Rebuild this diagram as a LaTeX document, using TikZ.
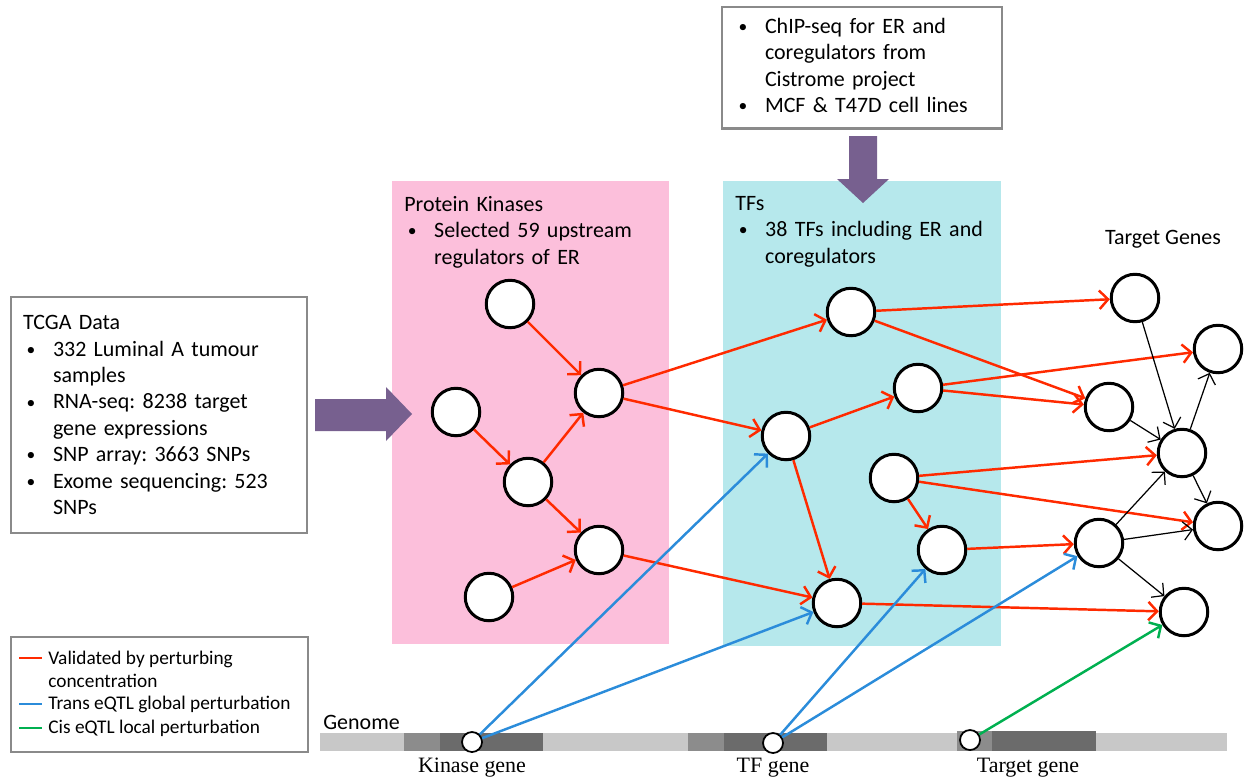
\documentclass[tikz,border=0pt]{standalone}
\usepackage{fontspec}
\setmainfont{Carlito}
\newfontfamily\genefont{Liberation Serif}
\usepackage{tikz}
\usetikzlibrary{%
  arrows.meta%
  ,positioning%
}
\definecolor{kinpink}{HTML}{FCBFDB}
\definecolor{tfcyan}{HTML}{B6E8EC}
\definecolor{fwdpurple}{HTML}{77608F}
\definecolor{valred}{HTML}{FF2A00}
\definecolor{transblue}{HTML}{2B8CDA}
\definecolor{cisgreen}{HTML}{00B050}
\definecolor{boxgray}{HTML}{8A8A8A}
\definecolor{gnlight}{HTML}{C8C8C8}
\definecolor{gnmid}{HTML}{8C8C8C}
\definecolor{gndark}{HTML}{6B6B6B}
\setlength{\parindent}{0pt}
\frenchspacing
\newlength{\bind}\setlength{\bind}{17pt}
\newcommand{\bpt}[1]{\par\noindent\hangindent=\bind\hangafter=1%
  \makebox[\bind][l]{\hspace{2pt}\raisebox{0.5pt}{\fontsize{10}{10}\selectfont\textbullet}}#1\par}

\begin{document}
\begin{tikzpicture}[x=0.02cm,y=-0.02cm,
    every node/.style={font=\fontsize{12.5}{15}\selectfont},
    nd/.style={circle,draw,line width=1.7pt,fill=white,minimum size=0.95cm,inner sep=0pt},
    gn/.style={circle,draw,line width=1pt,fill=white,minimum size=0.4cm,inner sep=0pt},
    tip/.style={-{Straight Barb[length=5pt,width=10.5pt]}},
    val/.style={tip,draw=valred,line width=1.4pt},
    trans/.style={tip,draw=transblue,line width=1.4pt},
    cis/.style={tip,draw=cisgreen,line width=1.4pt},
    reg/.style={tip,draw=black,line width=0.7pt},
    infobox/.style={draw=boxgray,line width=1.3pt,fill=white,align=left,inner ysep=0pt},
    paneltxt/.style={align=left,inner xsep=0.24cm,inner ysep=0.3cm},
    legtxt/.style={font=\fontsize{11}{13}\selectfont,align=left,inner sep=0pt}]
  \useasboundingbox (0,0) rectangle (1251,781);
  %% panels
  \fill[kinpink] (392,181) rectangle (669,644);
  \fill[tfcyan] (723,181) rectangle (1001,646);
  \node[paneltxt,anchor=north west,text width=5.06cm] (kintxt) at (392,181)
    {Protein Kinases\bpt{Selected 59 upstream\newline regulators of ER}};
  \node[paneltxt,anchor=north west,text width=5.08cm] (tftxt) at (723,181)
    {TFs\bpt{38 TFs including ER and\newline coregulators}};
  \node (tglab) at (1163,239) {Target Genes};
  %% data boxes and big arrows
  \node[infobox,anchor=north west,text width=5.44cm,inner xsep=0.24cm,minimum height=4.72cm] (tcga) at (10,296)
    {TCGA Data\bpt{332 Luminal A tumour\newline samples}\bpt{RNA-seq: 8238 target\newline gene expressions}%
     \bpt{SNP array: 3663 SNPs}\bpt{Exome sequencing: 523\newline SNPs}};
  \node[infobox,anchor=north west,text width=5.08cm,inner xsep=0.26cm,minimum height=2.4cm] (chip) at (721,6)
    {\bpt{ChIP-seq for ER and\newline coregulators from\newline Cistrome project}\bpt{MCF \& T47D cell lines\rule[-9pt]{0pt}{1pt}}};
  \fill[fwdpurple] (315,399) -- (386,399) -- (386,387) -- (412,414) -- (386,441) -- (386,431) -- (315,431) -- cycle;
  \fill[fwdpurple] (849,136) -- (877,136) -- (877,179) -- (889,179) -- (863,203) -- (837,179) -- (849,179) -- cycle;
  %% network nodes
  \node[nd] (k1) at (510,304) {};
  \node[nd] (k2) at (456,412) {};
  \node[nd] (k3) at (599,393) {};
  \node[nd] (k4) at (528,482) {};
  \node[nd] (k5) at (599,550) {};
  \node[nd] (k6) at (489,597) {};
  \node[nd] (t1) at (851,312) {};
  \node[nd] (t2) at (918,388) {};
  \node[nd] (t3) at (786,436) {};
  \node[nd] (t4) at (894,478) {};
  \node[nd] (t5) at (942,550) {};
  \node[nd] (t6) at (837,603) {};
  \node[nd] (g1) at (1135,298) {};
  \node[nd] (g2) at (1218,349) {};
  \node[nd] (g3) at (1109,407) {};
  \node[nd] (g4) at (1182,453) {};
  \node[nd] (g5) at (1218,526) {};
  \node[nd] (g6) at (1099,543) {};
  \node[nd] (g7) at (1184,612) {};
  %% genome
  \fill[gnlight] (320,733) rectangle (1227,751);
  \fill[gnmid] (404,733) rectangle (440,751);
  \fill[gndark] (440,733) rectangle (543,751);
  \fill[gnmid] (688,733) rectangle (724,751);
  \fill[gndark] (724,733) rectangle (827,751);
  \fill[gnmid] (957,731) rectangle (992,751);
  \fill[gndark] (992,731) rectangle (1096,751);
  \node[anchor=west,inner sep=0pt] (genome) at (323,722) {Genome};
  \node[gn] (kgene) at (472,742) {};
  \node[gn] (tgene) at (773,743) {};
  \node[gn] (ggene) at (970,740) {};
  \node[font=\genefont\fontsize{12.5}{15}\selectfont] (klab) at (472,768) {Kinase gene};
  \node[font=\genefont\fontsize{12.5}{15}\selectfont] (tlab) at (773,768) {TF gene};
  \node[font=\genefont\fontsize{12.5}{15}\selectfont] (glab) at (1028,768) {Target gene};
  %% edges
  \foreach \a/\b in {k1/k3,k2/k4,k4/k3,k4/k5,k6/k5,k3/t1,k3/t3,k5/t6,t3/t2,t3/t6,
      t1/g1,t1/g3,t2/g2,t2/g3,t4/g4,t4/g5,t4/t5,t5/g6,t6/g7}
    \draw[val] (\a) -- (\b);
  \foreach \a/\b in {g1/g4,g3/g4,g4/g2,g4/g5,g6/g4,g6/g5,g6/g7}
    \draw[reg] (\a) -- (\b);
  \foreach \a/\b in {kgene/t3,kgene/t6,tgene/t5,tgene/g6}
    \draw[trans] (\a) -- (\b);
  \draw[cis] (ggene) -- (g7);
  %% legend
  \node[draw=boxgray,line width=1.3pt,fill=white,minimum width=5.94cm,minimum height=2.3cm,anchor=north west] (legend) at (10,636) {};
  \node[legtxt,anchor=west] (lval) at (48,669) {Validated by perturbing\\concentration};
  \node[legtxt,anchor=west] (ltrans) at (48,704) {Trans eQTL global perturbation};
  \node[legtxt,anchor=west] (lcis) at (48,728) {Cis eQTL local perturbation};
  \draw[valred,line width=1.3pt] (19,658) -- (42,658);
  \draw[transblue,line width=1.3pt] (19,704) -- (42,704);
  \draw[cisgreen,line width=1.3pt] (19,728) -- (42,728);
\end{tikzpicture}
\end{document}
